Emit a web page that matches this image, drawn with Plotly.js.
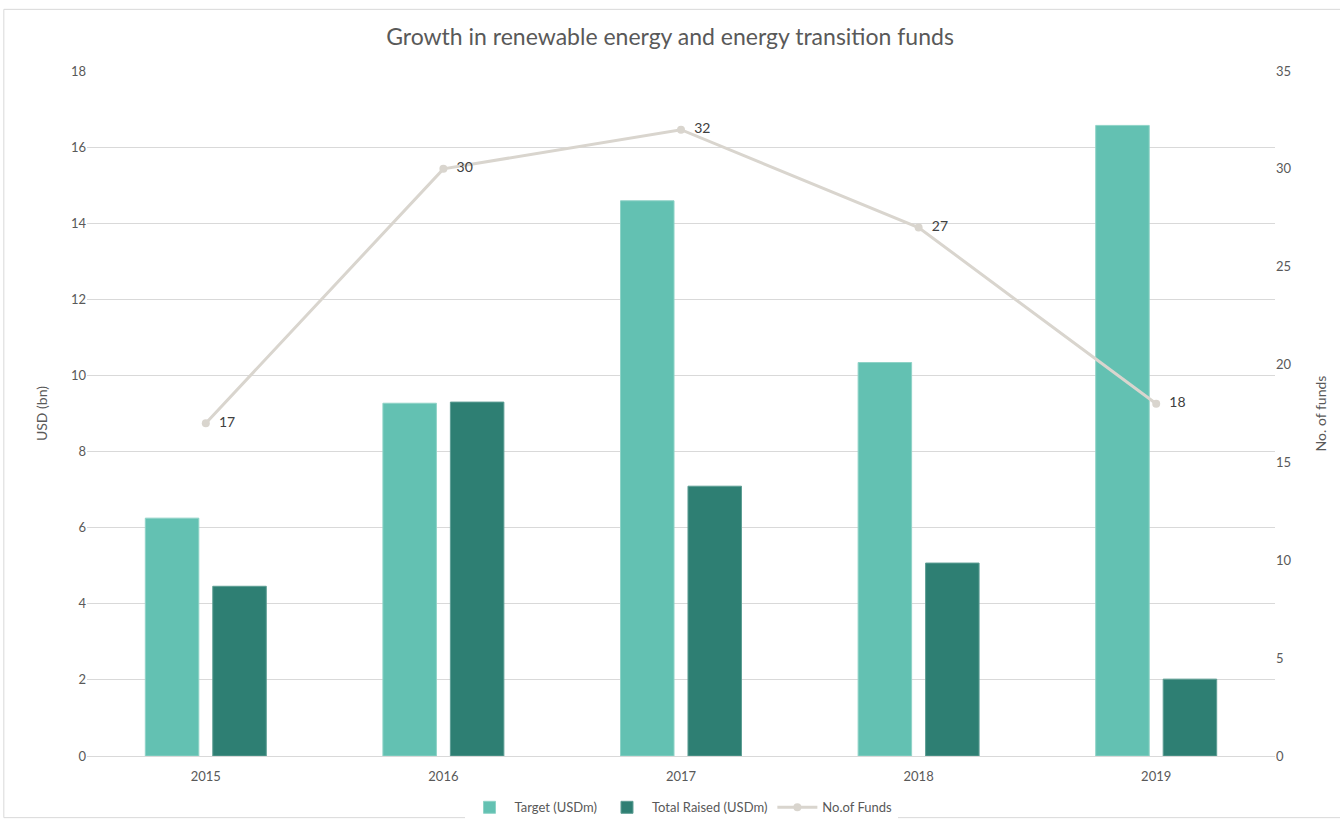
<!DOCTYPE html>
<html>
<head>
<meta charset="utf-8">
<script src="https://cdn.plot.ly/plotly-3.0.1.min.js"></script>
<style>html,body{margin:0;padding:0;background:#fff;}#chart{width:1340px;height:823px;}</style>
</head>
<body>
<div id="chart"></div>
<script>
var years = ['2015', '2016', '2017', '2018', '2019'];
var targetUSD = [6.25, 9.27, 14.59, 10.34, 16.57];
var totalRaised = [4.46, 9.30, 7.09, 5.07, 2.02];
var numFunds = [17, 30, 32, 27, 18];

var font = 'Lato, "Open Sans", sans-serif';
var grey = '#595959';

var traces = [
  {type: 'bar', name: 'Target (USDm)', x: years, y: targetUSD,
   marker: {color: '#63C1B2', line: {color: '#8FD3C7', width: 1}}, hoverinfo: 'y'},
  {type: 'bar', name: 'Total Raised (USDm)', x: years, y: totalRaised,
   marker: {color: '#2E7F73', line: {color: '#5E9E94', width: 1}}, hoverinfo: 'y'},
  {type: 'scatter', mode: 'lines+markers+text', name: 'No.of Funds', x: years, y: numFunds,
   yaxis: 'y2', line: {color: '#D9D5CE', width: 3}, marker: {color: '#D9D5CE', size: 8},
   text: numFunds.map(function (v) { return '  ' + v; }), textposition: 'middle right',
   textfont: {family: font, size: 14, color: '#404040'}, cliponaxis: false}
];

var layout = {
  width: 1340, height: 823,
  margin: {l: 87, r: 65, t: 71, b: 67, autoexpand: false},
  paper_bgcolor: '#fff', plot_bgcolor: '#fff',
  font: {family: font, color: grey, size: 13},
  title: {text: 'Growth in renewable energy and energy transition funds',
    font: {family: font, size: 23, color: grey}, x: 0.5, xanchor: 'center', y: 0.955, yanchor: 'middle'},
  barmode: 'group', bargap: 0.432, bargroupgap: 0.207,
  xaxis: {type: 'category', showgrid: false, zeroline: false, showline: false,
    ticks: 'outside', ticklen: 8, tickcolor: 'rgba(0,0,0,0)',
    tickfont: {family: font, size: 13, color: grey}},
  yaxis: {range: [0, 18], dtick: 2, showgrid: true, gridcolor: '#D9D9D9', gridwidth: 1,
    zeroline: true, zerolinecolor: '#D9D9D9', showline: false, ticks: '', ticklen: 0,
    tickfont: {family: font, size: 13, color: grey},
    title: {text: 'USD (bn)', font: {family: font, size: 14, color: grey}, standoff: 20}},
  yaxis2: {range: [0, 35], dtick: 5, overlaying: 'y', side: 'right', showgrid: false,
    zeroline: false, showline: false, ticks: '',
    tickfont: {family: font, size: 13, color: grey},
    title: {text: 'No. of funds', font: {family: font, size: 14, color: grey}, standoff: 25}},
  legend: {orientation: 'h', x: 0.5, xanchor: 'center', y: -0.075, yanchor: 'middle',
    font: {family: font, size: 13, color: grey}, traceorder: 'normal', itemwidth: 40},
  shapes: [{type: 'rect', xref: 'paper', yref: 'paper', x0: -0.07, x1: 1.06, y0: -0.09, y1: 1.09,
    line: {color: '#D9D9D9', width: 1}, layer: 'below'}],
  showlegend: true
};

Plotly.newPlot('chart', traces, layout, {displayModeBar: false});
</script>
</body>
</html>
